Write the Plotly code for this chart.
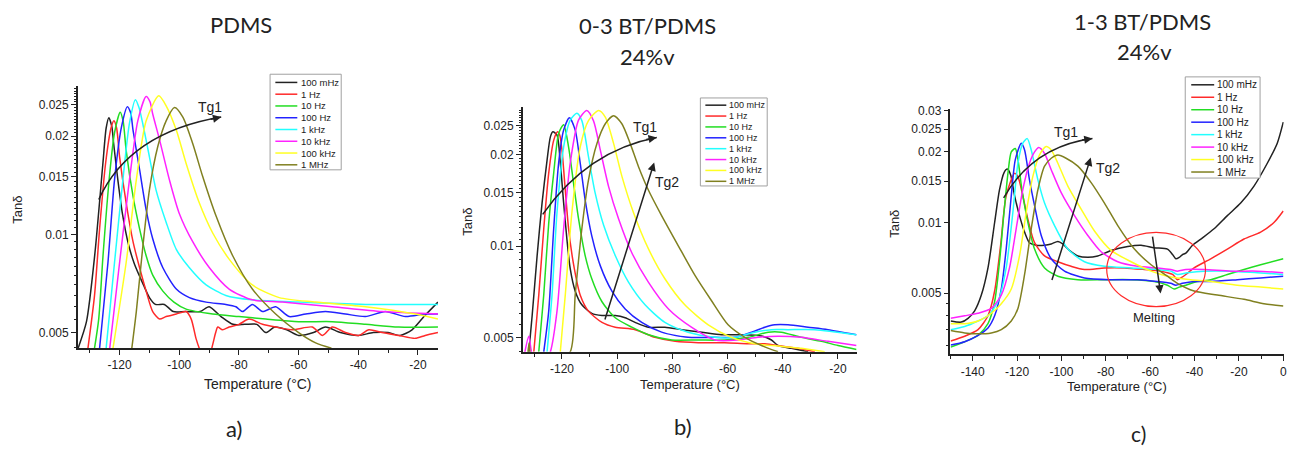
import math
import plotly.graph_objects as go

W, H = 1292, 449

freqs = ['100 mHz', '1 Hz', '10 Hz', '100 Hz', '1 kHz', '10 kHz', '100 kHz', '1 MHz']
colors = ['#222222', '#ff2a2a', '#22dd22', '#2222ff', '#22ffff', '#ff22ff', '#ffff22', '#808020']

panel_titles = ['PDMS', '0-3 BT/PDMS<br>24%v', '1-3 BT/PDMS<br>24%v']
panel_tags = ['a)', 'b)', 'c)']

x_ticks_ab = [-120, -100, -80, -60, -40, -20]
x_ticks_c = [-140, -120, -100, -80, -60, -40, -20, 0]
y_ticks_ab = [0.005, 0.01, 0.015, 0.02, 0.025]
y_ticks_c = [0.005, 0.01, 0.015, 0.02, 0.025, 0.03]
y_ticklabels_ab = ['0.005', '0.01', '0.015', '0.02', '0.025']
y_ticklabels_c = ['0.005', '0.01', '0.015', '0.02', '0.025', '0.03']

# ---------------- a) PDMS : (T [°C], tan delta) ----------------
a_100mHz = [(-133.9, 0.00448), (-131.1, 0.0054), (-128.3, 0.0087), (-125.6, 0.0165), (-124.5, 0.0212),
            (-123.6, 0.0228), (-122.6, 0.0214), (-122, 0.019), (-120.5, 0.0145), (-119, 0.0115),
            (-117, 0.0093), (-115, 0.0081), (-112, 0.0070), (-110, 0.0064), (-108, 0.0061),
            (-105, 0.0061), (-102, 0.0058), (-98, 0.0058), (-93, 0.0058), (-90, 0.0060), (-86, 0.0056),
            (-82, 0.0053), (-78, 0.0053), (-74, 0.0053), (-71, 0.0050), (-68, 0.0052), (-64, 0.0051),
            (-60, 0.0049), (-55, 0.0050), (-51, 0.0052), (-46, 0.0050), (-40, 0.0049), (-35, 0.0050),
            (-30, 0.0050), (-26, 0.0049), (-22, 0.0051), (-18, 0.0056), (-13.3, 0.0062)]
a_1Hz = [(-130.6, 0.00448), (-128.4, 0.0065), (-126.7, 0.0104), (-124.7, 0.0165), (-122.8, 0.0213),
         (-121.9, 0.0223), (-121, 0.0212), (-120, 0.0173), (-117.8, 0.0125), (-115.5, 0.0095),
         (-113.3, 0.0079), (-111.1, 0.0067), (-108.9, 0.0058), (-106.6, 0.0055), (-104.4, 0.0056),
         (-101, 0.0057), (-97.7, 0.0058), (-96, 0.0055), (-94.4, 0.0048), (-93.2, 0.00445), (-91, 0.0040),
         (-89.2, 0.00445), (-87.8, 0.0050), (-87.1, 0.0052), (-85.5, 0.0051), (-83.3, 0.0052),
         (-80, 0.0053), (-76.6, 0.0055), (-72.1, 0.0053), (-67.7, 0.0052), (-62.1, 0.0051),
         (-55.4, 0.0052), (-52, 0.0049), (-48.7, 0.0052), (-44.3, 0.0050), (-39.8, 0.0049),
         (-36.5, 0.0051), (-32, 0.0050), (-26.5, 0.0049), (-20.9, 0.0048), (-17.6, 0.0049), (-13.3, 0.0050)]
a_10Hz = [(-128.4, 0.00448), (-127, 0.0055), (-125.6, 0.0085), (-123.3, 0.0154), (-121.7, 0.0205),
          (-119.8, 0.0237), (-118.8, 0.0222), (-117.8, 0.0181), (-115.5, 0.0131), (-113.3, 0.0104),
          (-111.1, 0.0086), (-108.9, 0.0075), (-105.5, 0.0067), (-101.8, 0.0062), (-97.7, 0.0059),
          (-88.8, 0.0057), (-80, 0.0056), (-71, 0.0055), (-60, 0.0054), (-48.7, 0.0054), (-37.6, 0.0053),
          (-26.5, 0.0052), (-13.3, 0.0052)]
a_100Hz = [(-126.7, 0.00448), (-123.9, 0.0082), (-121.7, 0.0147), (-119.4, 0.0213), (-117.4, 0.02465),
           (-116.3, 0.0236), (-115.5, 0.0209), (-113.3, 0.0158), (-111.1, 0.0119), (-108.9, 0.0097),
           (-105.5, 0.0079), (-101, 0.0068), (-96.6, 0.0064), (-91, 0.0062), (-84.4, 0.0061), (-81, 0.0060),
           (-78.8, 0.0058), (-75.5, 0.0061), (-72.1, 0.0058), (-67.7, 0.0060), (-63.2, 0.0056),
           (-57.6, 0.0057), (-51, 0.0058), (-44.3, 0.0057), (-37.6, 0.0056), (-30.9, 0.0058),
           (-24.2, 0.0056), (-17.6, 0.0057), (-13.3, 0.0057)]
a_1kHz = [(-124.5, 0.00448), (-121.7, 0.0082), (-118.9, 0.0147), (-116.7, 0.0219), (-114.7, 0.0259),
          (-113.5, 0.0245), (-112.2, 0.0218), (-110, 0.0173), (-107.8, 0.0137), (-104.4, 0.0109),
          (-101, 0.0090), (-96.6, 0.0079), (-91, 0.0070), (-84.4, 0.0065), (-75.5, 0.0063), (-60, 0.0062),
          (-37.6, 0.0061), (-13.3, 0.0061)]
a_10kHz = [(-123.3, 0.00448), (-120, 0.0082), (-116.7, 0.0147), (-113.9, 0.0223), (-111.1, 0.0265),
           (-109.8, 0.0255), (-108.9, 0.0234), (-106.6, 0.0195), (-103.3, 0.0147), (-100, 0.0116),
           (-95.5, 0.0095), (-89.9, 0.0079), (-83.3, 0.0068), (-75.5, 0.0063), (-65.4, 0.0062),
           (-48.7, 0.0060), (-32, 0.0058), (-13.3, 0.0057)]
a_100kHz = [(-122.2, 0.00448), (-117.8, 0.0082), (-114.4, 0.0147), (-111.1, 0.0223), (-106.9, 0.0266),
            (-104.4, 0.0248), (-101, 0.0209), (-97.7, 0.0165), (-93.3, 0.0125), (-88.8, 0.0101),
            (-83.3, 0.0084), (-75.5, 0.0070), (-66.5, 0.0064), (-54.3, 0.0062), (-37.6, 0.0060),
            (-20.9, 0.0057), (-13.3, 0.0055)]
a_1MHz = [(-115.9, 0.00448), (-114.4, 0.0058), (-112.2, 0.0092), (-110, 0.0137), (-107.2, 0.0186),
          (-104.4, 0.0223), (-101.6, 0.0245), (-98.8, 0.0229), (-95.5, 0.0190), (-92.2, 0.0151),
          (-87.7, 0.0114), (-82.1, 0.0086), (-75.5, 0.0068), (-67.7, 0.0057), (-60, 0.0050),
          (-54.3, 0.00465), (-49, 0.00448)]

# ---------------- b) 0-3 BT/PDMS 24%v ----------------
b_100mHz = [(-132, 0.00448), (-130.8, 0.0059), (-129, 0.0093), (-127.2, 0.0139), (-125.4, 0.0192),
            (-124.2, 0.0229), (-123.3, 0.0238), (-121.8, 0.0232), (-120.6, 0.0188), (-119.4, 0.0139),
            (-118.2, 0.0105), (-117, 0.0084), (-115.2, 0.0071), (-112.8, 0.0064), (-109.2, 0.0060),
            (-105.5, 0.0059), (-100.7, 0.0059), (-97.1, 0.0058), (-93.5, 0.0056), (-88.7, 0.0054),
            (-82.7, 0.0054), (-76.6, 0.0053), (-69.4, 0.0052), (-62.2, 0.0051), (-55, 0.0051),
            (-47.7, 0.00505), (-44.1, 0.0049), (-41.7, 0.0047), (-36.9, 0.0046), (-30.8, 0.00448)]
b_1Hz = [(-130.2, 0.00448), (-128.4, 0.0069), (-126.6, 0.0114), (-124.8, 0.0174), (-123, 0.0223),
         (-121.6, 0.0238), (-120.8, 0.0232), (-120, 0.0207), (-118.8, 0.0153), (-117.6, 0.0114),
         (-115.8, 0.0087), (-113.4, 0.0069), (-110.4, 0.0061), (-105.5, 0.0056), (-100.7, 0.0054),
         (-93.5, 0.0053), (-86.3, 0.0050), (-79, 0.00485), (-70.6, 0.0048), (-61, 0.0048),
         (-52.5, 0.00476), (-46.5, 0.00476), (-40.5, 0.00468), (-34.5, 0.0046), (-28.4, 0.00448)]
b_10Hz = [(-128.4, 0.00448), (-126.6, 0.0069), (-124.8, 0.0119), (-123, 0.0174), (-121.2, 0.0235),
          (-119.4, 0.0251), (-117.6, 0.0212), (-115.8, 0.0161), (-114, 0.0123), (-111.6, 0.0093),
          (-109.2, 0.0078), (-105.5, 0.00655), (-100.7, 0.0058), (-94.7, 0.0054), (-88.7, 0.0051),
          (-80.2, 0.0049), (-70.6, 0.0049), (-61, 0.0049), (-52.5, 0.0050), (-45.3, 0.0052),
          (-40.5, 0.0052), (-33.3, 0.0050), (-26, 0.00485), (-20, 0.0047), (-13.3, 0.00456)]
b_100Hz = [(-126.6, 0.00448), (-124.8, 0.0061), (-123, 0.0114), (-121.2, 0.0188), (-119.4, 0.0241),
           (-117.3, 0.0265), (-115.2, 0.0241), (-113.4, 0.0188), (-111.6, 0.0142), (-109.2, 0.0108),
           (-106.1, 0.0086), (-101.9, 0.0071), (-97.1, 0.0062), (-91.1, 0.0056), (-83.9, 0.0052),
           (-74.3, 0.0050), (-64.6, 0.0050), (-57.3, 0.0050), (-51.3, 0.0052), (-46.5, 0.0054),
           (-42.9, 0.0055), (-38.1, 0.0055), (-30.8, 0.0054), (-23.6, 0.0053), (-13.3, 0.0051)]
b_1kHz = [(-125.4, 0.00448), (-123.6, 0.0069), (-121.8, 0.0129), (-119.4, 0.0212), (-117, 0.0260),
          (-114.6, 0.0274), (-112.8, 0.0259), (-110.4, 0.0197), (-108, 0.0150), (-104.9, 0.0117),
          (-100.7, 0.0093), (-95.9, 0.0076), (-89.9, 0.0064), (-82.7, 0.0056), (-74.3, 0.0052),
          (-64.6, 0.0050), (-57.3, 0.0050), (-50.1, 0.0052), (-44.1, 0.0053), (-38.1, 0.0053),
          (-28.4, 0.0053), (-13.3, 0.0051)]
b_10kHz = [(-133.6, 0.0044), (-132, 0.00504), (-130.8, 0.0044), (-127, 0.0040), (-124.2, 0.00448),
           (-121.8, 0.0061), (-119.4, 0.0114), (-117, 0.0188), (-114, 0.0260), (-111, 0.0280),
           (-108.6, 0.0259), (-106.1, 0.0207), (-103.1, 0.0157), (-99.5, 0.0123), (-94.7, 0.0095),
           (-88.7, 0.0076), (-81.4, 0.0062), (-73.1, 0.0054), (-64.6, 0.0049), (-56.2, 0.0049),
           (-49, 0.0050), (-41.7, 0.00504), (-33.3, 0.0050), (-23.6, 0.00485), (-13.3, 0.0047)]
b_100kHz = [(-120.6, 0.00448), (-118.8, 0.0069), (-116.4, 0.0129), (-113.4, 0.0212), (-110.4, 0.0259),
            (-106.7, 0.0280), (-104.3, 0.0266), (-101.3, 0.0218), (-98.3, 0.0170), (-94.1, 0.0129),
            (-88.7, 0.0098), (-82.7, 0.0078), (-75.5, 0.0064), (-67, 0.0055), (-58.6, 0.0050),
            (-50.1, 0.00476), (-41.7, 0.00468), (-33.3, 0.0046), (-24.8, 0.00448)]
b_1MHz = [(-132.4, 0.0044), (-131.9, 0.00479), (-131.3, 0.0044), (-124, 0.0040), (-117, 0.00448),
          (-115.2, 0.0069), (-112.8, 0.0114), (-110.4, 0.0165), (-107.3, 0.0218), (-104.3, 0.0253),
          (-101.3, 0.0269), (-98.3, 0.0253), (-95.3, 0.0218), (-92.3, 0.0183), (-88.7, 0.0153),
          (-83.9, 0.0126), (-77.8, 0.0100), (-71.8, 0.0080), (-65.8, 0.0066), (-59.8, 0.0055),
          (-53.7, 0.0050), (-47.7, 0.0047), (-41.7, 0.00448)]

# ---------------- c) 1-3 BT/PDMS 24%v ----------------
c_100mHz = [(-149.9, 0.0038), (-145.1, 0.00376), (-142.1, 0.0039), (-139.1, 0.0042), (-136.1, 0.0049),
            (-133.1, 0.0064), (-130.1, 0.0100), (-127.9, 0.0138), (-125.9, 0.0163), (-124.4, 0.0169),
            (-122.9, 0.0160), (-121.1, 0.0130), (-118.9, 0.0107), (-116.6, 0.0091), (-114.4, 0.0082),
            (-111.4, 0.0080), (-107.6, 0.0080), (-104.6, 0.0081), (-101.6, 0.0083), (-99.4, 0.0081),
            (-96.4, 0.0076), (-92.6, 0.0072), (-88.1, 0.0071), (-83.6, 0.0072), (-77.6, 0.0076),
            (-70.1, 0.0079), (-64.1, 0.0080), (-58.2, 0.0078), (-52.2, 0.0077), (-49.9, 0.0073),
            (-48.4, 0.0070), (-46.9, 0.0071), (-45.4, 0.0073), (-43.9, 0.0074), (-40.9, 0.0080),
            (-36.4, 0.0086), (-31.2, 0.0094), (-25.2, 0.0107), (-19.2, 0.0121), (-13.2, 0.0143),
            (-7.2, 0.0179), (-2.7, 0.0218), (0, 0.0268)]
c_1Hz = [(-149.9, 0.00312), (-143.6, 0.00327), (-137.6, 0.00349), (-133.1, 0.0040), (-130.1, 0.0051),
         (-127.4, 0.0080), (-124.9, 0.0130), (-121.1, 0.0162), (-119.6, 0.0157), (-117.4, 0.0130),
         (-115.1, 0.0103), (-112.1, 0.0082), (-107.6, 0.0072), (-101.6, 0.0068), (-95.6, 0.0065),
         (-89.6, 0.0063), (-80.6, 0.0064), (-71.6, 0.0064), (-62.6, 0.0063), (-55.2, 0.0062),
         (-49.9, 0.0060), (-47.7, 0.0057), (-46.2, 0.0058), (-43.9, 0.0060), (-40.2, 0.0064),
         (-32.7, 0.0070), (-25.2, 0.0077), (-17.7, 0.0085), (-10.2, 0.0091), (-4.2, 0.0100), (0, 0.0112)]
c_10Hz = [(-149.9, 0.00294), (-143.6, 0.0031), (-137.6, 0.0033), (-133.1, 0.0037), (-130.1, 0.0046),
          (-127.9, 0.0068), (-125.9, 0.0110), (-124.1, 0.0162), (-122.6, 0.0200), (-120.8, 0.0207),
          (-119.6, 0.0186), (-117.8, 0.0138), (-115.1, 0.0100), (-112.1, 0.0077), (-107.6, 0.0064),
          (-101.6, 0.0059), (-92.6, 0.0057), (-80.6, 0.0057), (-68.6, 0.0057), (-58.2, 0.0056),
          (-52.2, 0.0054), (-49.2, 0.0052), (-46.9, 0.0053), (-43.9, 0.0054), (-38.7, 0.0056),
          (-32.7, 0.0057), (-25.2, 0.0060), (-17.7, 0.0063), (-10.2, 0.0066), (0, 0.0070)]
c_100Hz = [(-149.9, 0.0030), (-143.6, 0.0031), (-137.6, 0.0033), (-133.1, 0.00355), (-130.1, 0.0040),
           (-127.1, 0.0052), (-124.9, 0.0077), (-122.6, 0.0130), (-120.8, 0.0185), (-118.1, 0.0218),
           (-116.6, 0.0204), (-114.4, 0.0152), (-112.1, 0.0118), (-109.1, 0.0088), (-104.6, 0.0070),
           (-98.6, 0.0062), (-89.6, 0.0058), (-77.6, 0.0057), (-65.6, 0.0057), (-56.7, 0.0056),
           (-50.7, 0.0055), (-48.4, 0.0054), (-45.4, 0.0055), (-40.2, 0.0056), (-32.7, 0.0056),
           (-20.7, 0.0057), (-10.2, 0.0058), (0, 0.0059)]
c_1kHz = [(-149.9, 0.00349), (-143.6, 0.0036), (-137.6, 0.0038), (-133.1, 0.0040), (-128.6, 0.0046),
          (-124.9, 0.0064), (-121.9, 0.0110), (-119.6, 0.0179), (-117.4, 0.0218), (-115.4, 0.0228),
          (-113.6, 0.0204), (-110.6, 0.0152), (-107.6, 0.0121), (-103.1, 0.0097), (-97.1, 0.0077),
          (-89.6, 0.0068), (-80.6, 0.0065), (-68.6, 0.0064), (-56.7, 0.0063), (-50.7, 0.0062),
          (-47.7, 0.0060), (-43.2, 0.0061), (-35.7, 0.0062), (-23.7, 0.0062), (-11.7, 0.0061), (0, 0.0060)]
c_10kHz = [(-149.9, 0.0039), (-143.6, 0.0040), (-137.6, 0.0041), (-131.6, 0.0043), (-127.1, 0.0049),
           (-123.4, 0.0064), (-120.4, 0.0094), (-117.4, 0.0138), (-114.4, 0.0179), (-112.1, 0.0200),
           (-110.2, 0.0209), (-107.6, 0.0197), (-104.6, 0.0168), (-100.1, 0.0134), (-94.1, 0.0107),
           (-88.1, 0.0088), (-82.1, 0.0075), (-74.6, 0.0068), (-65.6, 0.0065), (-56.7, 0.0064),
           (-50.7, 0.0063), (-47.7, 0.0062), (-43.9, 0.0063), (-35.7, 0.0063), (-23.7, 0.0062),
           (-11.7, 0.0062), (0, 0.0061)]
c_100kHz = [(-149.9, 0.0037), (-143.6, 0.0037), (-137.6, 0.0038), (-131.6, 0.0041), (-127.1, 0.0045),
            (-122.6, 0.0052), (-118.9, 0.0072), (-115.9, 0.0110), (-112.9, 0.0157), (-109.9, 0.0194),
            (-106.9, 0.0211), (-104.6, 0.0204), (-101.6, 0.0179), (-97.1, 0.0143), (-91.1, 0.0114),
            (-85.1, 0.0092), (-77.6, 0.0076), (-68.6, 0.0068), (-59.6, 0.0062), (-52.2, 0.0059),
            (-47.7, 0.0058), (-41.7, 0.0057), (-32.7, 0.0056), (-20.7, 0.0054), (-10.2, 0.0053), (0, 0.0052)]
c_1MHz = [(-149.9, 0.00346), (-143.6, 0.00338), (-137.6, 0.00335), (-131.6, 0.00338), (-127.1, 0.00349),
          (-122.6, 0.0038), (-119.6, 0.0043), (-116.6, 0.0060), (-113.6, 0.0094), (-110.6, 0.0138),
          (-107.6, 0.0174), (-104.6, 0.0188), (-101.6, 0.0194), (-97.9, 0.0188), (-92.6, 0.0174),
          (-86.6, 0.0148), (-80.6, 0.0121), (-74.6, 0.0097), (-67.1, 0.0077), (-59.6, 0.0066),
          (-52.2, 0.0059), (-47.7, 0.0055), (-40.2, 0.0051), (-29.7, 0.0049), (-17.7, 0.0047),
          (-8.7, 0.0045), (0, 0.0044)]

panel_a = [a_100mHz, a_1Hz, a_10Hz, a_100Hz, a_1kHz, a_10kHz, a_100kHz, a_1MHz]
panel_b = [b_100mHz, b_1Hz, b_10Hz, b_100Hz, b_1kHz, b_10kHz, b_100kHz, b_1MHz]
panel_c = [c_100mHz, c_1Hz, c_10Hz, c_100Hz, c_1kHz, c_10kHz, c_100kHz, c_1MHz]


def PX(x):
    return x / W


def PY(y):
    return 1 - y / H


TXT = '#222222'
FONT = 'Liberation Sans, Arial, sans-serif'
TFONT = 'Lato, Liberation Sans, sans-serif'

fig = go.Figure()

for series, xa, ya in [(panel_a, 'x', 'y'), (panel_b, 'x2', 'y2'), (panel_c, 'x3', 'y3')]:
    for s, col, f in zip(series, colors, freqs):
        fig.add_trace(go.Scatter(
            x=[p[0] for p in s], y=[p[1] for p in s], mode='lines', name=f,
            line=dict(color=col, width=1.5, shape='spline', smoothing=0.7),
            xaxis=xa, yaxis=ya, showlegend=False, hoverinfo='skip'))


def xcfg(dom_px, rng, ticks, anchor):
    return dict(domain=[PX(dom_px[0]), PX(dom_px[1])], range=rng, anchor=anchor,
                tickmode='array', tickvals=ticks, ticktext=[str(t) for t in ticks],
                showline=True, linecolor=TXT, linewidth=1.5, mirror=False,
                ticks='outside', ticklen=5, tickwidth=1, tickcolor=TXT,
                showgrid=False, zeroline=False, ticklabeloverflow='allow',
                tickfont=dict(family=FONT, size=12, color=TXT),
                minor=dict(tickmode='linear', tick0=0, dtick=10, ticks='outside',
                           ticklen=3, tickwidth=1, tickcolor=TXT, showgrid=False))


def ycfg(dom_px, lo, hi, ticks, labels, minor_vals, anchor):
    return dict(domain=[PY(dom_px[1]), PY(dom_px[0])], type='log',
                range=[math.log10(lo), math.log10(hi)], anchor=anchor,
                tickmode='array', tickvals=ticks, ticktext=labels,
                showline=True, linecolor=TXT, linewidth=1.5, mirror=False,
                ticks='outside', ticklen=5, tickwidth=1, tickcolor=TXT,
                showgrid=False, zeroline=False, ticklabeloverflow='allow',
                tickfont=dict(family=FONT, size=12, color=TXT),
                minor=dict(tickmode='array', tickvals=minor_vals, ticks='outside',
                           ticklen=2.5, tickwidth=1, tickcolor=TXT, showgrid=False))


minor_ab = [round(0.0045 + 0.0005 * i, 5) for i in range(48)]
minor_c = [0.003, 0.0035, 0.004, 0.0045]

fig.update_layout(
    width=W, height=H, margin=dict(l=0, r=0, t=0, b=0, pad=0),
    paper_bgcolor='white', plot_bgcolor='white', showlegend=False,
    xaxis=xcfg((78, 439), [-134, -13.3], x_ticks_ab, 'y'),
    yaxis=ycfg((82, 347), 0.00448, 0.0285, y_ticks_ab, y_ticklabels_ab, minor_ab, 'x'),
    xaxis2=xcfg((524, 858.7), [-134.2, -13.2], x_ticks_ab, 'y2'),
    yaxis2=ycfg((103, 350.7), 0.00448, 0.02876, y_ticks_ab, y_ticklabels_ab, minor_ab, 'x2'),
    xaxis3=xcfg((952.7, 1286.7), [-150, 0.2], x_ticks_c, 'y3'),
    yaxis3=ycfg((105, 353.3), 0.002737, 0.03055, y_ticks_c, y_ticklabels_c, minor_c, 'x3'),
)

shapes = []
annots = []


def text(x, y, s, size, family=FONT, angle=0, xanchor='center'):
    annots.append(dict(x=PX(x), y=PY(y), xref='paper', yref='paper', text=s, showarrow=False,
                       xanchor=xanchor, yanchor='middle', textangle=angle,
                       font=dict(family=family, size=size, color=TXT)))


def legend_box(box, row0, dy, lx0, lx1, tx, fs):
    shapes.append(dict(type='rect', xref='paper', yref='paper', x0=PX(box[0]), x1=PX(box[2]),
                       y0=PY(box[3]), y1=PY(box[1]), line=dict(color='#a0a0a0', width=1),
                       fillcolor='white', layer='above'))
    for i, (f, col) in enumerate(zip(freqs, colors)):
        yy = row0 + i * dy
        shapes.append(dict(type='line', xref='paper', yref='paper', x0=PX(lx0), x1=PX(lx1),
                           y0=PY(yy), y1=PY(yy), line=dict(color=col, width=1.5), layer='above'))
        text(tx, yy, f, fs, xanchor='left')


legend_box((270.7, 70, 342, 166.7), 78.3, 11.9, 276, 298, 300, 9.5)
legend_box((702, 94, 769, 183), 101.3, 11.0, 707, 728, 729, 9)
legend_box((1188, 72.7, 1263, 175), 80.7, 12.6, 1194, 1217, 1218, 10)


def curve_arrow(p0, c, p1, head_off):
    shapes.append(dict(type='path', xref='paper', yref='paper', layer='above',
                       path='M %f,%f Q %f,%f %f,%f' % (PX(p0[0]), PY(p0[1]), PX(c[0]), PY(c[1]),
                                                       PX(p1[0]), PY(p1[1])),
                       line=dict(color=TXT, width=1.5), fillcolor='rgba(0,0,0,0)'))
    straight_arrow(p1, (p1[0] + head_off[0], p1[1] + head_off[1]))


def straight_arrow(head, tail):
    annots.append(dict(x=PX(head[0]), y=PY(head[1]), xref='paper', yref='paper', text='',
                       showarrow=True, ax=tail[0] - head[0], ay=tail[1] - head[1],
                       arrowhead=2, arrowsize=1.1, arrowwidth=1.5, arrowcolor=TXT))


# Tg arrows
curve_arrow((99, 196.7), (129.6, 129), (221.7, 113.3), (-12, 2.5))
curve_arrow((544, 211.7), (588.8, 147.2), (658.3, 134), (-12, 2.3))
curve_arrow((1006, 195), (1035.5, 143), (1095, 135), (-12, 1.8))
straight_arrow((655.7, 159.3), (606, 317.7))
straight_arrow((1093.3, 154.3), (1054, 278.3))
straight_arrow((1163.3, 291.7), (1155, 233.3))

shapes.append(dict(type='circle', xref='paper', yref='paper', x0=PX(1109.3), x1=PX(1208.3),
                   y0=PY(305), y1=PY(230), line=dict(color='#ff2a2a', width=1.2), layer='above'))

text(210, 102.7, 'Tg1', 14)
text(646.7, 123.3, 'Tg1', 14)
text(668.7, 179.3, 'Tg2', 14)
text(1068.3, 128.3, 'Tg1', 14)
text(1111, 165, 'Tg2', 14)
text(1156.7, 316, 'Melting', 13)

# axis titles
text(17.3, 206.7, 'Tanδ', 13, angle=-90)
text(469, 219.3, 'Tanδ', 13, angle=-90)
text(896.7, 221.7, 'Tanδ', 13, angle=-90)
text(258.3, 383.3, 'Temperature (°C)', 14)
text(691.7, 383.3, 'Temperature (°C)', 13)
text(1120, 386, 'Temperature (°C)', 13)

# panel titles and tags
text(241.5, 20, 'PDMS', 22, family=TFONT)
text(649.5, 21, '0-3 BT/PDMS', 22, family=TFONT)
text(649, 52, '24%v', 22, family=TFONT)
text(1145, 17, '1-3 BT/PDMS', 22, family=TFONT)
text(1147, 47, '24%v', 22, family=TFONT)
text(235, 428, panel_tags[0], 22, family=TFONT)
text(685, 426, panel_tags[1], 22, family=TFONT)
text(1141, 433, panel_tags[2], 21, family=TFONT)

fig.update_layout(shapes=shapes, annotations=annots)
fig.write_html('out.html', config={'displayModeBar': False},
               post_script="document.body.style.margin='0px';")
